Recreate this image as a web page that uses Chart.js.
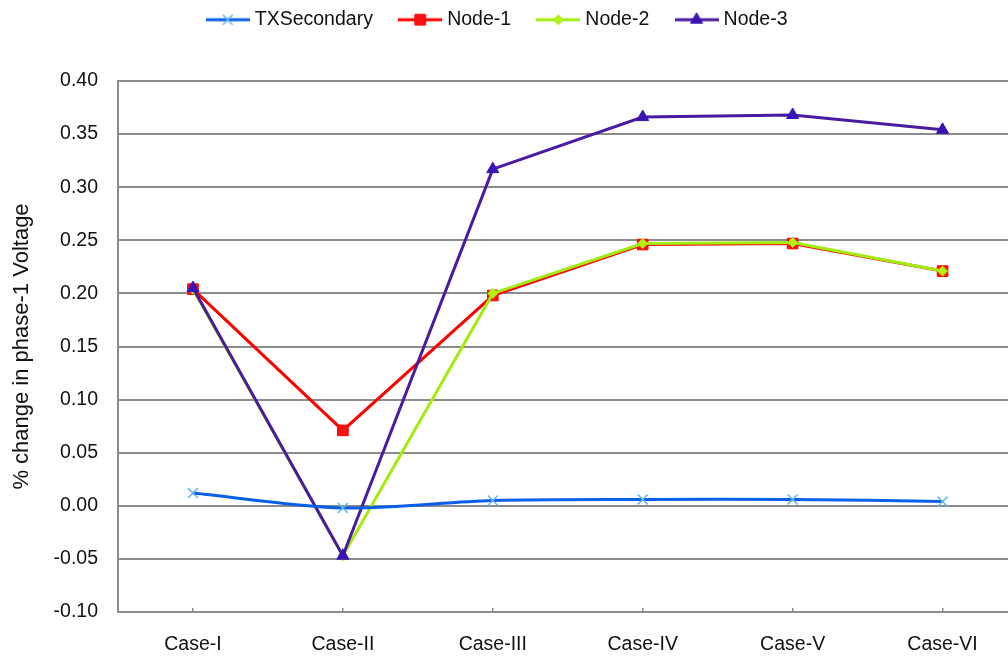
<!DOCTYPE html>
<html>
<head>
<meta charset="utf-8">
<script src="https://cdn.jsdelivr.net/npm/chart.js@4.4.0/dist/chart.umd.min.js"></script>
<style>
  html, body { margin: 0; padding: 0; background: #fff; overflow: hidden; width: 1008px; height: 656px; }
  #wrap { position: absolute; left: -26px; top: -20px; width: 1052px; height: 676px; }
</style>
</head>
<body>
<div id="wrap"><canvas id="c" width="1052" height="676"></canvas></div>
<script>
// Cases along the x axis
const categories = ['Case-I', 'Case-II', 'Case-III', 'Case-IV', 'Case-V', 'Case-VI'];

// % change in phase-1 voltage per case
const txSecondary = [0.012, -0.002, 0.005, 0.006, 0.006, 0.004];
const node1 = [0.204, 0.071, 0.198, 0.246, 0.247, 0.221];
const node2 = [0.204, -0.047, 0.200, 0.247, 0.248, 0.221];
const node3 = [0.205, -0.047, 0.317, 0.366, 0.368, 0.354];

// value axis range and tick step
const yMin = -0.10;
const yMax = 0.40;
const yStep = 0.05;

const FONT = 'Liberation Sans, Arial, sans-serif';
const TEXT = '#111111';
const GRID = '#8c8c8c';

const seriesStyles = [
  { label: 'TXSecondary', data: txSecondary, line: '#0a5fe8', fill: '#62b8f2', stroke: '#62b8f2', shape: 'crossRot', r: 7, bw: 1.5, order: 0, tension: 0.3 },
  { label: 'Node-1', data: node1, line: '#ff0000', fill: '#ff1010', stroke: '#ff0000', shape: 'rect', r: 7.5, bw: 1, order: 3, tension: 0 },
  { label: 'Node-2', data: node2, line: '#a2ec0c', fill: '#b6f014', stroke: '#a2ec0c', shape: 'rectRot', r: 5, bw: 1, order: 2, tension: 0 },
  { label: 'Node-3', data: node3, line: '#4a1aa0', fill: '#3a14b4', stroke: '#3a14b4', shape: 'triangle', r: 7, bw: 1, order: 1, tension: 0 }
];

// legend swatch: short line with the series marker in the middle
function legendIcon(s) {
  const cv = document.createElement('canvas');
  cv.width = 44; cv.height = 18;
  const ctx = cv.getContext('2d');
  ctx.strokeStyle = s.line;
  ctx.lineWidth = 3;
  ctx.beginPath();
  ctx.moveTo(0, 9); ctx.lineTo(44, 9);
  ctx.stroke();
  ctx.fillStyle = s.fill;
  ctx.strokeStyle = s.stroke;
  ctx.lineWidth = s.bw;
  Chart.helpers.drawPoint(ctx, { pointStyle: s.shape, radius: s.r, rotation: 0, borderWidth: s.bw }, 22, 9);
  return cv;
}
const icons = seriesStyles.map(legendIcon);

// fixes the height reserved for the legend band above the plot
const legendBand = {
  id: 'legendBand',
  beforeLayout(chart) {
    const lg = chart.legend;
    if (lg && !lg._bandWrapped) {
      const fit = lg.fit.bind(lg);
      lg.fit = function () { fit(); this.height = 101; };
      lg._bandWrapped = true;
    }
  }
};

new Chart(document.getElementById('c'), {
  type: 'line',
  data: {
    labels: categories,
    datasets: seriesStyles.map(s => ({
      label: s.label,
      data: s.data,
      borderColor: s.line,
      backgroundColor: s.fill,
      borderWidth: 3,
      pointStyle: s.shape,
      pointRadius: s.r,
      pointBackgroundColor: s.fill,
      pointBorderColor: s.stroke,
      pointBorderWidth: s.bw,
      tension: s.tension,
      order: s.order,
      fill: false
    }))
  },
  options: {
    responsive: false,
    devicePixelRatio: 1,
    animation: false,
    layout: { padding: { left: 0, right: 2, top: 0, bottom: 0 } },
    plugins: {
      tooltip: { enabled: false },
      legend: {
        position: 'top',
        labels: {
          usePointStyle: true,
          pointStyleWidth: 34.5,
          padding: 30,
          color: TEXT,
          font: { family: FONT, size: 19.5 },
          generateLabels: () => seriesStyles.map((s, i) => ({
            text: s.label,
            pointStyle: icons[i],
            datasetIndex: i,
            hidden: false,
            lineWidth: 0,
            fillStyle: 'transparent',
            strokeStyle: 'transparent',
            fontColor: TEXT
          }))
        }
      }
    },
    scales: {
      x: {
        offset: true,
        grid: { display: true, offset: false, drawOnChartArea: false, drawTicks: true, tickLength: -4, color: GRID, lineWidth: 1.5 },
        border: { display: true, color: GRID, width: 2 },
        ticks: { color: TEXT, padding: 25, font: { family: FONT, size: 19.5 }, maxRotation: 0 },
        afterFit(scale) { scale.height = 44; }
      },
      y: {
        min: yMin,
        max: yMax,
        grid: { color: GRID, lineWidth: 2, drawTicks: false },
        border: { display: true, color: GRID, width: 2 },
        ticks: {
          stepSize: yStep,
          padding: 20,
          color: TEXT,
          font: { family: FONT, size: 19.5 },
          callback: v => (Math.abs(v) < 1e-9 ? 0 : v).toFixed(2)
        },
        title: {
          display: true,
          text: '% change in phase-1 Voltage',
          color: TEXT,
          font: { family: FONT, size: 22 },
          padding: { top: 35, bottom: 0 }
        },
        afterFit(scale) { scale.width = 144; }
      }
    }
  },
  plugins: [legendBand]
});
</script>
</body>
</html>
